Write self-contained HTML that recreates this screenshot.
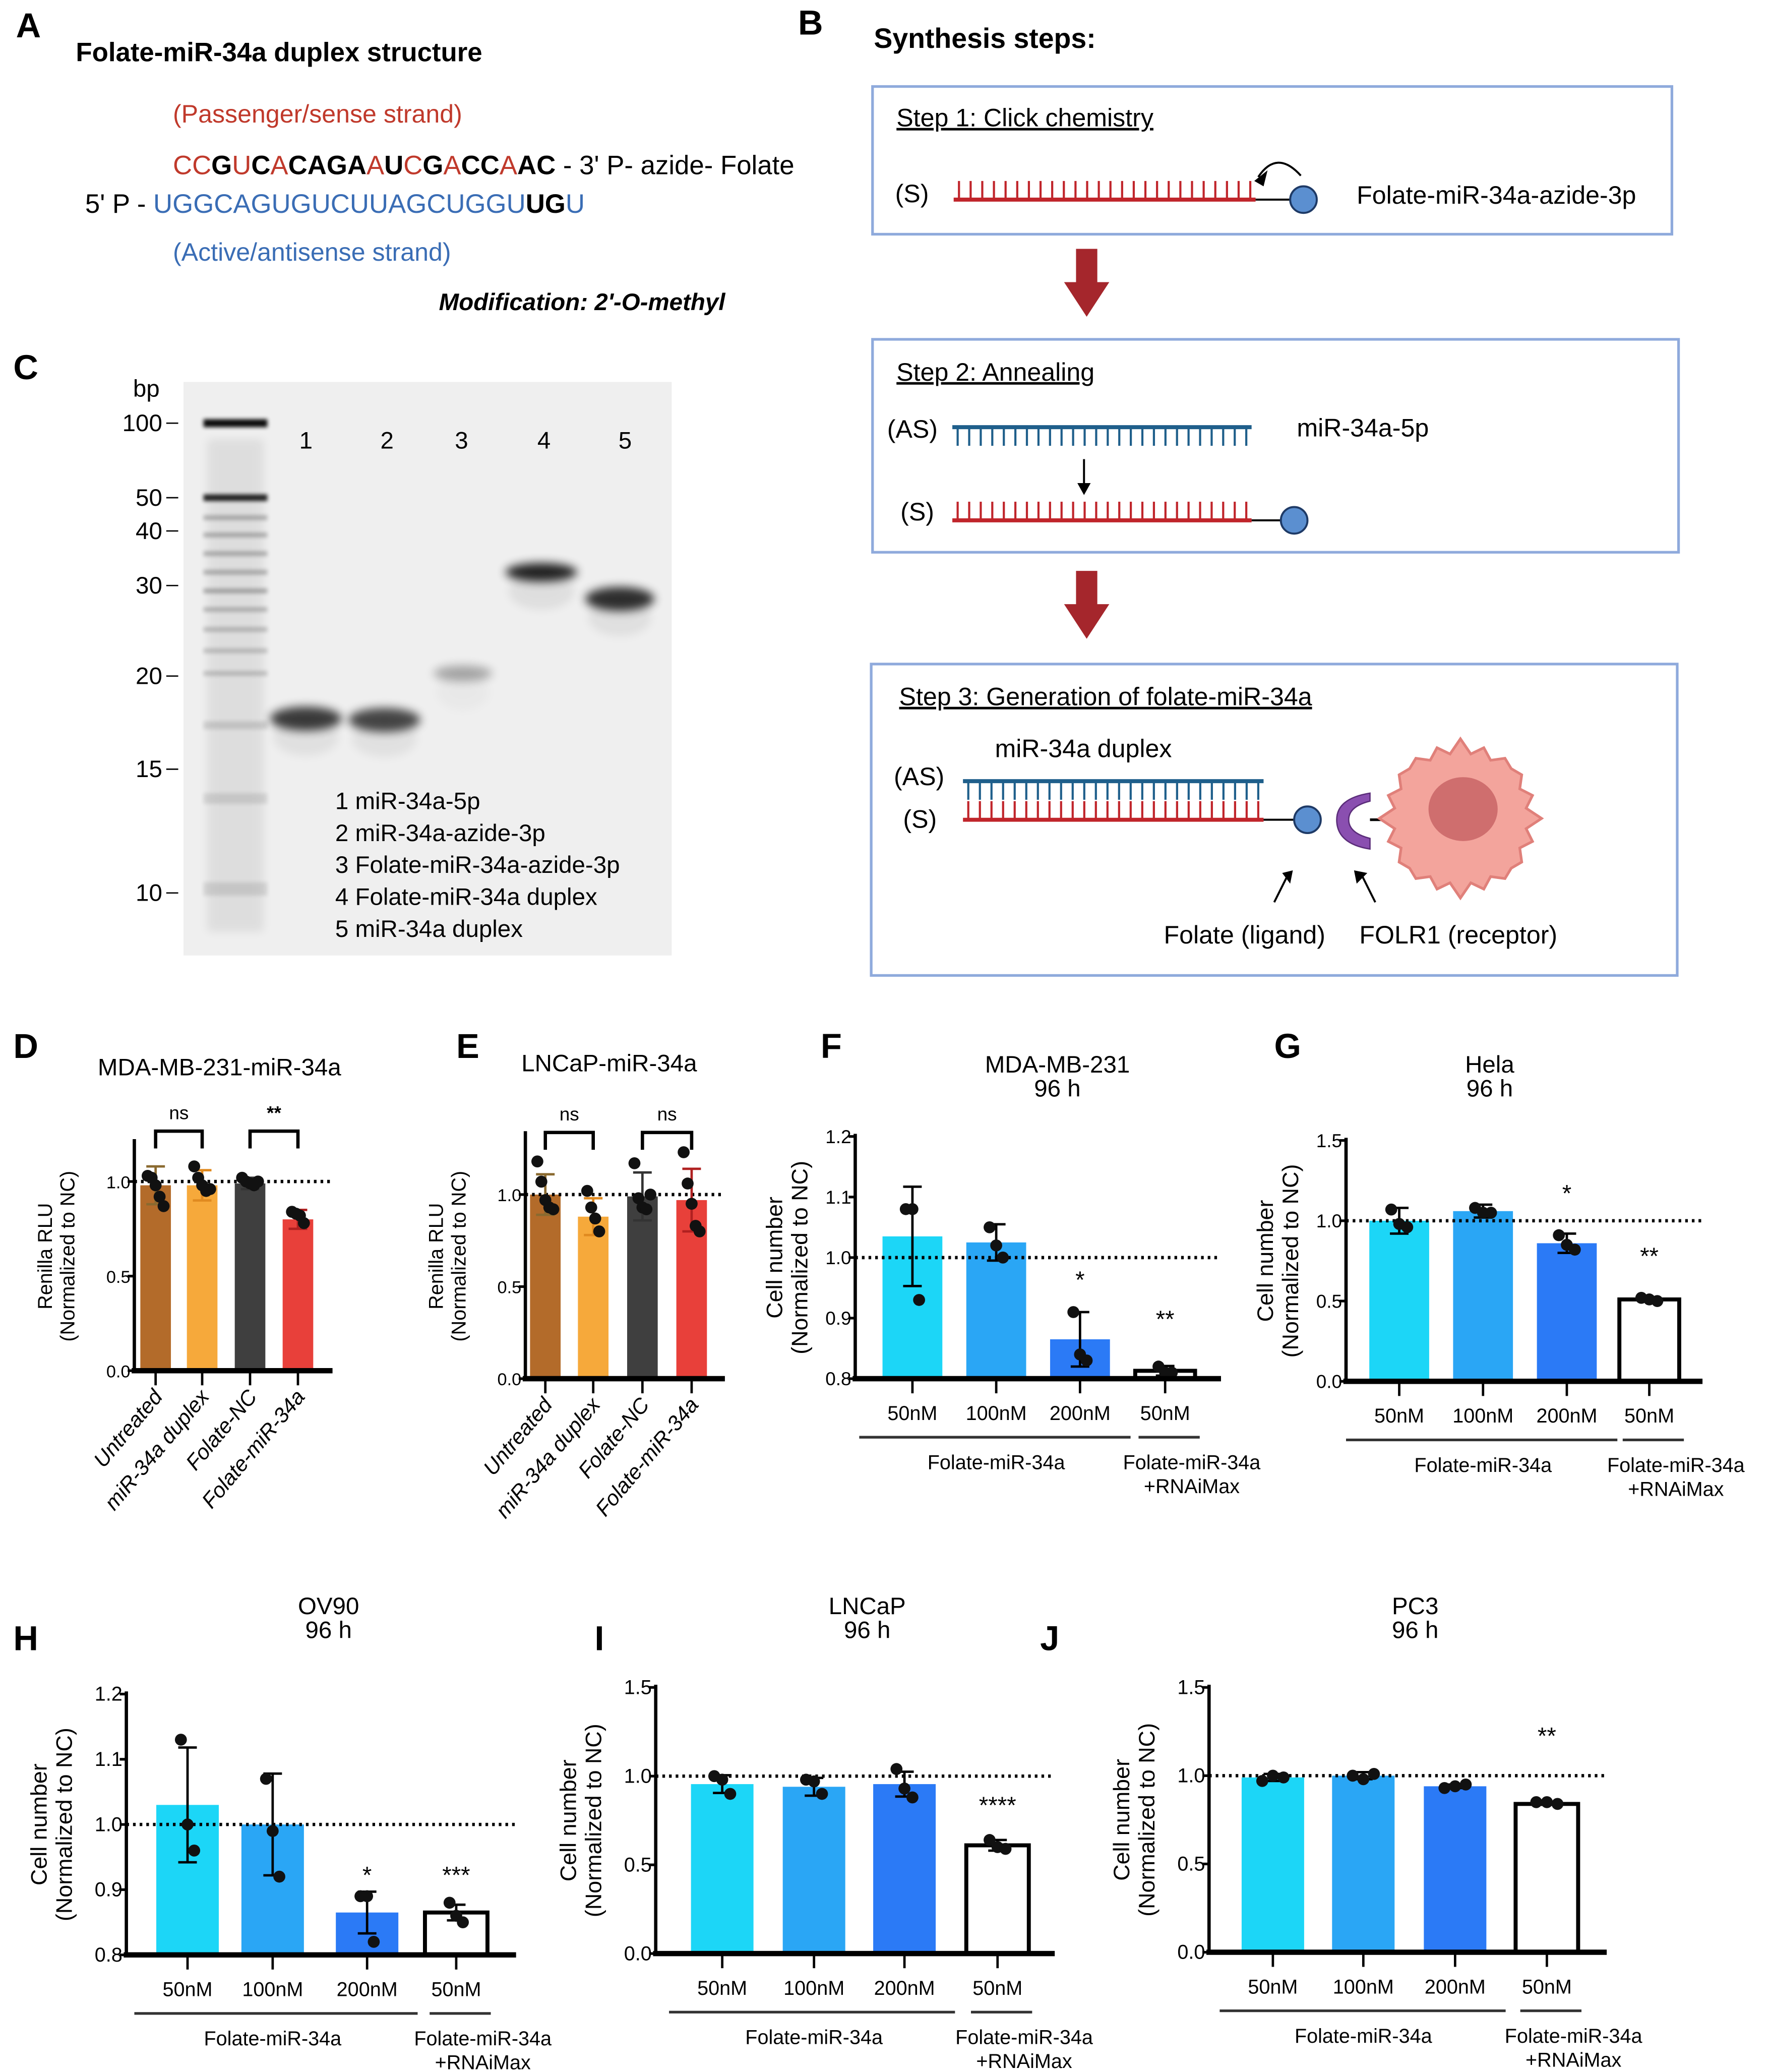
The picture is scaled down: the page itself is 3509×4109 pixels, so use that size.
<!DOCTYPE html>
<html><head><meta charset="utf-8"><style>
html,body{margin:0;padding:0;background:#fff;}
svg{display:block;font-family:"Liberation Sans",Arial,sans-serif;}
</style></head><body>
<svg id="fig" xmlns="http://www.w3.org/2000/svg" width="3509" height="4109" viewBox="0 0 1330 1557" preserveAspectRatio="none">
<rect width="1330" height="1557" fill="#fff"/>
<defs>
<filter id="blur1" x="-50%" y="-200%" width="200%" height="500%"><feGaussianBlur stdDeviation="3.5"/></filter>
<filter id="blur2" x="-50%" y="-200%" width="200%" height="500%"><feGaussianBlur stdDeviation="1.5"/></filter>
</defs>

<g>
<text x="12" y="28" font-size="26" font-weight="bold">A</text>
<text x="57" y="46" font-size="20" font-weight="bold">Folate-miR-34a duplex structure</text>
<text x="130" y="92" font-size="19" fill="#c0392b">(Passenger/sense strand)</text>
<text x="130" y="131" font-size="20"><tspan fill="#c0392b">CC</tspan><tspan font-weight="bold">G</tspan><tspan fill="#c0392b">U</tspan><tspan font-weight="bold">C</tspan><tspan fill="#c0392b">A</tspan><tspan font-weight="bold">CAGA</tspan><tspan fill="#c0392b">A</tspan><tspan font-weight="bold">U</tspan><tspan fill="#c0392b">C</tspan><tspan font-weight="bold">G</tspan><tspan fill="#c0392b">A</tspan><tspan font-weight="bold">CC</tspan><tspan fill="#c0392b">A</tspan><tspan font-weight="bold">AC</tspan><tspan> - 3' P- azide- Folate</tspan></text>
<text x="64" y="160" font-size="20"><tspan>5' P - </tspan><tspan fill="#3a6db5">UGGCAGUGUCUUAGCUGGU</tspan><tspan font-weight="bold">UG</tspan><tspan fill="#3a6db5">U</tspan></text>
<text x="130" y="196" font-size="19" fill="#3a6db5">(Active/antisense strand)</text>
<text x="330" y="233" font-size="18" font-weight="bold" font-style="italic">Modification: 2'-O-methyl</text>
</g>

<g>
<text x="10" y="285" font-size="26" font-weight="bold">C</text>
<rect x="138" y="287" width="367" height="431" fill="#efefef"/>
<text x="100" y="298" font-size="18">bp</text>
<g id="gelTicks" font-size="18" text-anchor="end"></g>
<g id="gelBands"></g>
<g font-size="18" text-anchor="middle">
<text x="230" y="337">1</text><text x="291" y="337">2</text><text x="347" y="337">3</text><text x="409" y="337">4</text><text x="470" y="337">5</text>
</g>
<g font-size="18">
<text x="252" y="608">1 miR-34a-5p</text>
<text x="252" y="632">2 miR-34a-azide-3p</text>
<text x="252" y="656">3 Folate-miR-34a-azide-3p</text>
<text x="252" y="680">4 Folate-miR-34a duplex</text>
<text x="252" y="704">5 miR-34a duplex</text>
</g>
</g>

<g>
<text x="600" y="26" font-size="26" font-weight="bold">B</text>
<text x="657" y="36" font-size="21" font-weight="bold">Synthesis steps:</text>
<rect x="656" y="65" width="601" height="111" fill="none" stroke="#8faadc" stroke-width="2"/>
<rect x="656" y="255" width="606" height="160" fill="none" stroke="#8faadc" stroke-width="2"/>
<rect x="655" y="499" width="606" height="234" fill="none" stroke="#8faadc" stroke-width="2"/>
<polygon points="809,187 825,187 825,212 834,212 817,238 800,212 809,212" fill="#a5262c"/>
<polygon points="809,429 825,429 825,454 834,454 817,480 800,454 809,454" fill="#a5262c"/>
<text x="674" y="95" font-size="19" text-decoration="underline">Step 1: Click chemistry</text>
<text x="673" y="152" font-size="19">(S)</text>
<g id="strands"></g>
<path d="M946,133 Q960,112 978,132" fill="none" stroke="#000" stroke-width="1.5"/>
<polygon points="943,136 953,128 950,140" fill="#000"/>
<text x="1020" y="153" font-size="19">Folate-miR-34a-azide-3p</text>
<text x="674" y="286" font-size="19" text-decoration="underline">Step 2: Annealing</text>
<text x="667" y="329" font-size="19">(AS)</text>
<text x="975" y="328" font-size="19">miR-34a-5p</text>
<line x1="815" y1="345" x2="815" y2="366" stroke="#000" stroke-width="1.5"/>
<polygon points="810,363 820,363 815,372" fill="#000"/>
<text x="677" y="391" font-size="19">(S)</text>
<text x="676" y="530" font-size="19" text-decoration="underline">Step 3: Generation of folate-miR-34a</text>
<text x="748" y="569" font-size="19">miR-34a duplex</text>
<text x="672" y="590" font-size="19">(AS)</text>
<text x="679" y="622" font-size="19">(S)</text>
<path d="M1030,596 Q1005,600 1005,616 Q1005,634 1030,638 L1030,630 Q1014,626 1014,616 Q1014,606 1030,602 Z" fill="#8a4fb0" stroke="#5b2d7a"/>
<path d="M1043,616 L1030,616" stroke="#000" stroke-width="2"/>
<path id="cellPath" d="" fill="#f3a49c" stroke="#e0807a" stroke-width="2"/>
<ellipse cx="1100" cy="608" rx="26" ry="24" fill="#cf6e6e"/>
<line x1="958" y1="678" x2="968" y2="658" stroke="#000" stroke-width="1.5"/><polygon points="964,656 972,654 970,664" fill="#000"/>
<line x1="1034" y1="678" x2="1024" y2="658" stroke="#000" stroke-width="1.5"/><polygon points="1020,664 1018,654 1028,656" fill="#000"/>
<text x="875" y="709" font-size="19">Folate (ligand)</text>
<text x="1022" y="709" font-size="19">FOLR1 (receptor)</text>
</g>

<g id="charts"></g>
</svg>
<script>
const catsDE = ["Untreated","miR-34a duplex","Folate-NC","Folate-miR-34a"];
const catsConc = ["50nM","100nM","200nM","50nM"];

const dValues = [0.98, 0.98, 0.99, 0.80];
const dErr = [0.10, 0.08, 0.03, 0.05];
const dPoints = [[1.03,1.02,0.98,0.92,0.87],[1.08,1.02,0.98,0.95,0.96],[1.02,1.00,0.99,0.98,1.00],[0.84,0.83,0.82,0.78]];

const eValues = [1.00, 0.88, 0.99, 0.97];
const eErr = [0.11, 0.10, 0.13, 0.17];
const ePoints = [[1.18,1.07,0.97,0.93,0.92],[1.02,0.93,0.87,0.80],[1.17,0.98,0.93,0.92,1.00],[1.23,1.06,0.95,0.83,0.80]];

const fValues = [1.035, 1.025, 0.865, 0.813];
const fErr = [0.082, 0.030, 0.045, 0.008];
const fPoints = [[1.08,1.08,0.93],[1.05,1.02,1.00],[0.91,0.84,0.83],[0.82,0.81,0.81]];

const gValues = [1.00, 1.06, 0.86, 0.51];
const gErr = [0.08, 0.04, 0.06, 0.01];
const gPoints = [[1.07,0.98,0.96],[1.08,1.05,1.05],[0.91,0.85,0.82],[0.52,0.51,0.50]];

const hValues = [1.03, 1.00, 0.865, 0.865];
const hErr = [0.088, 0.078, 0.032, 0.012];
const hPoints = [[1.13,1.00,0.96],[1.07,0.99,0.92],[0.89,0.89,0.82],[0.88,0.86,0.85]];

const iValues = [0.955, 0.94, 0.955, 0.61];
const iErr = [0.05, 0.05, 0.07, 0.03];
const iPoints = [[1.00,0.98,0.90],[0.98,0.97,0.90],[1.04,0.93,0.88],[0.64,0.60,0.59]];

const jValues = [0.99, 1.00, 0.94, 0.84];
const jErr = [0.02, 0.02, 0.01, 0.005];
const jPoints = [[0.97,1.00,0.99],[1.00,0.98,1.01],[0.93,0.94,0.95],[0.85,0.85,0.84]];

const ticksDE = [0.0, 0.5, 1.0];
const ticksNarrow = [0.8, 0.9, 1.0, 1.1, 1.2];
const ticksWide = [0.0, 0.5, 1.0, 1.5];
const tickLabelsDE = ["0.0","0.5","1.0"];
const tickLabelsNarrow = ["0.8","0.9","1.0","1.1","1.2"];
const tickLabelsWide = ["0.0","0.5","1.0","1.5"];

const sigD = ["ns","**"];
const sigE = ["ns","ns"];
const sigF = ["","","*","**"]; const sigFLevel = [0,0,0.95,0.885];
const sigG = ["","","*","**"]; const sigGLevel = [0,0,1.12,0.73];
const sigH = ["","","*","***"]; const sigHLevel = [0,0,0.91,0.91];
const sigI = ["","","","****"]; const sigILevel = [0,0,0,0.79];
const sigJ = ["","","","**"]; const sigJLevel = [0,0,0,1.18];

const gelMarkers = ["100","50","40","30","20","15","10"];
const gelMarkerY = [318,374,399,440,508,578,671];

const NS="http://www.w3.org/2000/svg";
function mk(tag, attrs, parent){const e=document.createElementNS(NS,tag);for(const k in attrs)e.setAttribute(k,attrs[k]);if(parent)parent.appendChild(e);return e;}

// spiky cell outline
(function(){let d='';const cx=1098,cy=615,n=40;for(let i=0;i<=n;i++){const a=i/n*Math.PI*2;const r=(i%2?50:57)+(i%5===0?4:0);const x=cx+r*Math.cos(a),y=cy+r*0.98*Math.sin(a);d+=(i?'L':'M')+x.toFixed(1)+','+y.toFixed(1);}document.getElementById('cellPath').setAttribute('d',d+'Z');})();

const gt=document.getElementById('gelTicks');
gelMarkers.forEach((m,i)=>{
  const t=mk('text',{x:122,y:gelMarkerY[i]+6},gt);t.textContent=m;
  
  
  mk('line',{x1:125,y1:gelMarkerY[i],x2:134,y2:gelMarkerY[i],stroke:'#000','stroke-width':1},gt);
});
const gb=document.getElementById('gelBands');
mk('rect',{x:156,y:330,width:42,height:370,fill:'#000',opacity:0.07,filter:'url(#blur1)'},gb);
const ladder=[[318,0.95,3],[374,0.85,2.5],[389,0.25,1.8],[402,0.25,1.8],[416,0.25,1.8],[430,0.25,1.8],[444,0.28,1.8],[458,0.22,1.8],[473,0.2,1.8],[489,0.18,1.8],[506,0.18,1.8],[545,0.12,3],[600,0.1,4],[668,0.1,5]];
ladder.forEach(b=>{const e=mk('rect',{x:153,y:b[0]-b[2],width:48,height:b[2]*2,fill:'#000',opacity:b[1],filter:'url(#blur2)'},gb);

});
const lanes=[[230,540,0.75,54,9],[289,541,0.7,54,9],[348,506,0.3,44,6],[407,430,0.85,54,7],[466,450,0.8,52,9]];
lanes.forEach((l,i)=>{const e=mk('ellipse',{cx:l[0],cy:l[1],rx:l[3]/2,ry:l[4],fill:'#000',opacity:l[2],filter:'url(#blur1)'},gb);


mk('ellipse',{cx:l[0],cy:l[1]+14,rx:l[3]/2.2,ry:14,fill:'#000',opacity:l[2]*0.08,filter:'url(#blur1)'},gb);});

const st=document.getElementById('strands');
function strand(x1,x2,y,color,dir,n){
  const g=mk('g',{},st);
  mk('line',{x1:x1,y1:y,x2:x2,y2:y,stroke:color,'stroke-width':3},g);
  for(let i=0;i<n;i++){const x=x1+4+i*(x2-x1-8)/(n-1);mk('line',{x1:x,y1:y,x2:x,y2:y+dir*14,stroke:color,'stroke-width':1.6},g);}
  return g;
}
function folate(x1,x2,y){mk('line',{x1:x1,y1:y,x2:x2-10,y2:y,stroke:'#000','stroke-width':1.5},st);mk('circle',{cx:x2,cy:y,r:10,fill:'#5b8fd0',stroke:'#1e3a66','stroke-width':1.5},st);}
let s;
s=strand(717,944,150,'#c0252b',-1,26);folate(944,980,150);
s=strand(716,941,321,'#1f5f8b',1,26);
s=strand(716,941,391,'#c0252b',-1,26);folate(941,973,391);
s=strand(724,950,587,'#1f5f8b',1,26);
s=strand(724,950,616,'#c0252b',-1,26);folate(950,983,616);

const C=document.getElementById('charts');
function txt(parent,x,y,str,size,attrs){const t=mk('text',Object.assign({x:x,y:y,'font-size':size},attrs||{}),parent);t.textContent=str;return t;}

function chart(id,cfg,values,err,points,ticks,tickLabels,cats,colors,sig,sigLevel){
  const g=mk('g',{},C);
  
  
  const Y=v=>cfg.y0-(v-cfg.min)/(cfg.max-cfg.min)*(cfg.y0-cfg.y1);
  const pl=txt(g,cfg.lx,cfg.ly,id.toUpperCase(),26,{'font-weight':'bold'});
  
  
  cfg.title.forEach((tl,i)=>{const t=txt(g,cfg.tx,cfg.ty+i*18,tl,18,{'text-anchor':'middle'});
    
    });
  const yt=mk('text',{transform:`translate(${cfg.ax-cfg.ytOff},${(cfg.y0+cfg.y1)/2}) rotate(-90)`,'text-anchor':'middle','font-size':cfg.ytSize},g);
  
  
  mk('tspan',{x:0,dy:0},yt).textContent=cfg.ytitle;
  mk('tspan',{x:0,dy:cfg.ytSize+2},yt).textContent='(Normalized to NC)';
  values.forEach((v,i)=>{
    const xc=cfg.xs[i];
    const col=colors[i];
    const top=Y(v);
    const r=mk('rect',{x:xc-cfg.bw/2,y:top,width:cfg.bw,height:cfg.y0-top,fill:col==='white'?'#fff':col,stroke:col==='white'?'#000':'none','stroke-width':col==='white'?3:0},g);
    
    
  });
  const ref=mk('line',{x1:cfg.ax,y1:Y(1),x2:cfg.xend,y2:Y(1),stroke:'#000','stroke-width':2.5,'stroke-dasharray':'2,3'},g);
  
  
  values.forEach((v,i)=>{
    const xc=cfg.xs[i];
    const ec=cfg.errColors?cfg.errColors[i]:'#000';
    const eg=mk('g',{stroke:ec,'stroke-width':1.8},g);
    
    
    mk('line',{x1:xc,y1:Y(v+err[i]),x2:xc,y2:Y(v-err[i])},eg);
    mk('line',{x1:xc-7,y1:Y(v+err[i]),x2:xc+7,y2:Y(v+err[i])},eg);
    mk('line',{x1:xc-7,y1:Y(v-err[i]),x2:xc+7,y2:Y(v-err[i])},eg);
    const n=points[i].length;
    points[i].forEach((p,k)=>{
      const off=n===1?0:(k-(n-1)/2)*cfg.jit;
      const c=mk('circle',{cx:xc+off,cy:Y(p),r:4.5,fill:'#111'},g);
      
      
    });
    if(sig && sigLevel && sig[i]){const t=txt(g,xc,Y(sigLevel[i]),sig[i],18,{'text-anchor':'middle'});
      
      }
  });
  const ya=mk('line',{x1:cfg.ax,y1:cfg.y1-2,x2:cfg.ax,y2:cfg.y0,stroke:'#000','stroke-width':2.5},g);
  
  
  const xa=mk('line',{x1:cfg.ax-2,y1:cfg.y0,x2:cfg.xend,y2:cfg.y0,stroke:'#000','stroke-width':4},g);
  
  
  ticks.forEach((tv,i)=>{
    mk('line',{x1:cfg.ax-5,y1:Y(tv),x2:cfg.ax,y2:Y(tv),stroke:'#000','stroke-width':2},g);
    const t=txt(g,cfg.ax-3,Y(tv)+5,tickLabels[i],cfg.tickSize,{'text-anchor':'end'});
    
    
  });
  cfg.xs.forEach(xc=>mk('line',{x1:xc,y1:cfg.y0,x2:xc,y2:cfg.y0+11,stroke:'#000','stroke-width':1.8},g));
  if(cfg.rot){
    cats.forEach((c,i)=>{const t=txt(g,0,0,c,16,{'text-anchor':'end','font-style':'italic',transform:`translate(${cfg.xs[i]+6},${cfg.y0+20}) rotate(-50)`});
      
      });
  } else {
    cats.forEach((c,i)=>{const t=txt(g,cfg.xs[i],cfg.y0+31,c,15,{'text-anchor':'middle'});
      
      });
    const bl=cfg.y0+44;
    mk('line',{x1:cfg.xs[0]-40,y1:bl,x2:cfg.xs[2]+38,y2:bl,stroke:'#333','stroke-width':2},g);
    mk('line',{x1:cfg.xs[3]-20,y1:bl,x2:cfg.xs[3]+26,y2:bl,stroke:'#333','stroke-width':2},g);
    const gl=txt(g,cfg.xs[1],bl+24,'Folate-miR-34a',15,{'text-anchor':'middle'});
    
    
    const g2=txt(g,cfg.xs[3]+20,bl+24,'Folate-miR-34a',15,{'text-anchor':'middle'});
    
    
    txt(g,cfg.xs[3]+20,bl+42,'+RNAiMax',15,{'text-anchor':'middle'});
  }
  if(cfg.brackets){
    cfg.brackets.forEach((b,k)=>{
      const x1=cfg.xs[b[0]],x2=cfg.xs[b[1]],by=cfg.by;
      const br=mk('path',{d:`M${x1},${by+13} L${x1},${by} L${x2},${by} L${x2},${by+13}`,fill:'none',stroke:'#000','stroke-width':2.5},g);
      
      
      const t=txt(g,(x1+x2)/2,by-9,cfg.bl[k],14,{'text-anchor':'middle','font-weight':cfg.bl[k]==='ns'?'normal':'bold'});
      
      
    });
  }
}

const colsDE=['#b36b2a','#f6a93b','#3f3f3f','#e8403a'];
const errDE=['#8a6a30','#e08a20','#333','#b02020'];
const colsB=['#1cd6f7','#2aa6f5','#2b7af6','white'];

chart('d',{lx:10,ly:795,tx:165,ty:808,title:['MDA-MB-231-miR-34a'],ax:101,y0:1030,y1:858,min:0,max:1.21,xs:[117,152,188,224],bw:23,xend:250,jit:3,ytitle:'Renilla RLU',ytOff:62,ytSize:15,tickSize:13,rot:true,brackets:[[0,1],[2,3]],bl:sigD,by:850,errColors:errDE},
  dValues,dErr,dPoints,ticksDE,tickLabelsDE,catsDE,colsDE);
chart('e',{lx:343,ly:795,tx:458,ty:805,title:['LNCaP-miR-34a'],ax:395,y0:1036,y1:852,min:0,max:1.33,xs:[410,446,483,520],bw:23,xend:545,jit:3,ytitle:'Renilla RLU',ytOff:62,ytSize:15,tickSize:13,rot:true,brackets:[[0,1],[2,3]],bl:sigE,by:851,errColors:errDE},
  eValues,eErr,ePoints,ticksDE,tickLabelsDE,catsDE,colsDE);
chart('f',{lx:617,ly:795,tx:795,ty:806,title:['MDA-MB-231','96 h'],ax:643,y0:1036,y1:854,min:0.8,max:1.2,xs:[686,749,812,876],bw:45,xend:918,jit:5,ytitle:'Cell number',ytOff:55,ytSize:17,tickSize:14},
  fValues,fErr,fPoints,ticksNarrow,tickLabelsNarrow,catsConc,colsB,sigF,sigFLevel);
chart('g',{lx:958,ly:795,tx:1120,ty:806,title:['Hela','96 h'],ax:1012,y0:1038,y1:857,min:0,max:1.5,xs:[1052,1115,1178,1240],bw:45,xend:1280,jit:6,ytitle:'Cell number',ytOff:55,ytSize:17,tickSize:14},
  gValues,gErr,gPoints,ticksWide,tickLabelsWide,catsConc,colsB,sigG,sigGLevel);
chart('h',{lx:10,ly:1240,tx:247,ty:1213,title:['OV90','96 h'],ax:95,y0:1469,y1:1273,min:0.8,max:1.2,xs:[141,205,276,343],bw:47,xend:388,jit:5,ytitle:'Cell number',ytOff:60,ytSize:17,tickSize:15},
  hValues,hErr,hPoints,ticksNarrow,tickLabelsNarrow,catsConc,colsB,sigH,sigHLevel);
chart('i',{lx:447,ly:1240,tx:652,ty:1213,title:['LNCaP','96 h'],ax:493,y0:1468,y1:1268,min:0,max:1.5,xs:[543,612,680,750],bw:47,xend:793,jit:6,ytitle:'Cell number',ytOff:60,ytSize:17,tickSize:15},
  iValues,iErr,iPoints,ticksWide,tickLabelsWide,catsConc,colsB,sigI,sigILevel);
chart('j',{lx:782,ly:1240,tx:1064,ty:1213,title:['PC3','96 h'],ax:909,y0:1467,y1:1268,min:0,max:1.5,xs:[957,1025,1094,1163],bw:47,xend:1208,jit:8,ytitle:'Cell number',ytOff:60,ytSize:17,tickSize:15},
  jValues,jErr,jPoints,ticksWide,tickLabelsWide,catsConc,colsB,sigJ,sigJLevel);
</script>
</body></html>
